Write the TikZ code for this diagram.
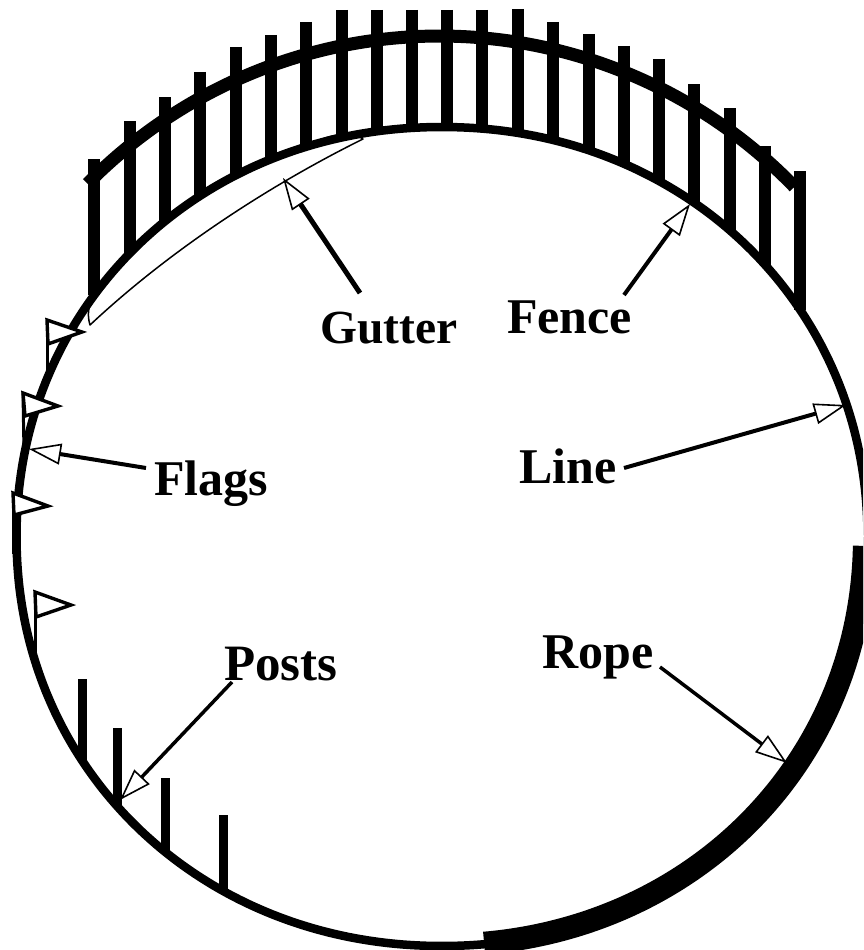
\documentclass[tikz,border=0pt]{standalone}
\usepackage{fontspec}
\setmainfont{Liberation Serif}
\usetikzlibrary{arrows.meta}
\def\cxx{442}\def\cyy{536.5}\def\rxx{425.5}\def\ryy{409.5}
\tikzset{
  declare function={
    sx(\t)=cos(\t)*(abs(cos(\t))+0.0001)^(-0.0244);
    sy(\t)=sin(\t)*(abs(sin(\t))+0.0001)^(-0.0244);
  },
  label text/.style={font=\fontsize{50}{50}\selectfont\bfseries,anchor=base west,inner sep=0pt,text=black},
  callout/.style={draw=black,line cap=butt,-{Triangle[length=32pt,width=21pt,fill=white,line width=1.6pt]}},
  flagshape/.style={draw=black,fill=white,line width=3.4pt,line join=miter},
  flagpole/.style={draw=black,line width=3pt},
  fencepost/.style={draw=black,line width=12pt},
  groundpost/.style={draw=black,line width=9pt},
}
\begin{document}
\begin{tikzpicture}[x=1pt,y=-1pt]
\useasboundingbox (0,0) rectangle (863,950);
\clip (0,0) rectangle (863,950);
% gutter
\draw[fill=white,draw=black,line width=1.5pt,line join=round]
  (90,325) .. controls (170,250) and (270,185) .. (363,139)
  .. controls (355,133) and (340,133) .. (325,138)
  .. controls (220,175) and (130,240) .. (95,295)
  .. controls (88,305) and (87,315) .. (90,325) -- cycle;
% line (closed curve)
\draw[black,line width=8.5pt] plot[domain=0:360,samples=240,smooth]
  ({\cxx+\rxx*sx(\x)},{\cyy-\ryy*sy(\x)});
% rope
\draw[black,line width=23pt] plot[domain=-1.2:-84.6,samples=90,smooth]
  ({\cxx+422.5*sx(\x)},{\cyy-408.5*sy(\x)});
% fence rail
\draw[black,line width=13pt] plot[domain=135.2:44.3,samples=90,smooth]
  ({439.5+496*cos(\x)},{536-500*sin(\x)});
% fence posts
\foreach \px/\ptop in {94/159,130/121,165/97,200/72,236/47,271/35,306/22,342/10,377/10,412/10,447/10,482/10,518/9,553/22,589/34,624/46,659/59,694/84,730/108,765/146,800/171}{
  \pgfmathsetmacro{\pbot}{\cyy-\ryy*(1-(abs(\px-\cxx)/\rxx)^2.05)^(1/2.05)}
  \draw[fencepost] (\px,\ptop) -- (\px,\pbot);
}
% ground posts
\foreach \px/\ptop in {82/679,117/728,165/778,223/815}{
  \pgfmathsetmacro{\pbot}{\cyy+\ryy*(1-(abs(\px-\cxx)/\rxx)^2.05)^(1/2.05)}
  \draw[groundpost] (\px,\ptop) -- (\px,\pbot);
}
% flags
\draw[flagpole] (47,320) -- (47,382);
\draw[flagshape] (47,320) -- (82,332) -- (48,344) -- cycle;
\draw[flagpole] (23,393) -- (24,452);
\draw[flagshape] (23,393) -- (58,406) -- (25,416) -- cycle;
\draw[draw=black,line width=5pt] (14,493) -- (14,554);
\draw[flagshape] (13,493) -- (48,506) -- (14,515) -- cycle;
\draw[flagpole] (35,592) -- (35,655);
\draw[flagshape] (35,592) -- (71,605) -- (36,617) -- cycle;
% labels
\node[label text,font=\fontsize{47.5}{50}\selectfont\bfseries] (gutter) at (320,343) {Gutter};
\node[label text] (fence) at (507,333) {Fence};
\node[label text] (flags) at (154,495) {Flags};
\node[label text] (linelabel) at (519,483) {Line};
\node[label text,font=\fontsize{51}{50}\selectfont\bfseries] (posts) at (224,680) {Posts};
\node[label text] (rope) at (542,668) {Rope};
% callout ends
\coordinate (gutterT) at (360,293); \coordinate (gutterH) at (283,178);
\coordinate (fenceT) at (624,295); \coordinate (fenceH) at (690,204);
\coordinate (lineT) at (624,468); \coordinate (lineH) at (846,405);
\coordinate (flagsT) at (146,468); \coordinate (flagsH) at (29,449);
\coordinate (postsT) at (232,682); \coordinate (postsH) at (120,800);
\coordinate (ropeT) at (660,667); \coordinate (ropeH) at (787,763);
\draw[callout,line width=5pt] (gutterT) -- (gutterH);
\draw[callout,line width=4pt] (fenceT) -- (fenceH);
\draw[callout,line width=4pt] (lineT) -- (lineH);
\draw[callout,line width=4pt] (flagsT) -- (flagsH);
\draw[callout,line width=3.5pt] (postsT) -- (postsH);
\draw[callout,line width=3.5pt] (ropeT) -- (ropeH);
\end{tikzpicture}
\end{document}
